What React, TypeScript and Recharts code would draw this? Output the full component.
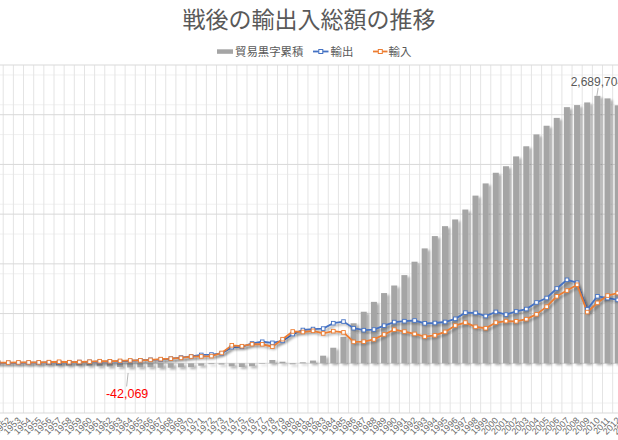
import React from 'react';
import { ComposedChart, Bar, Line, XAxis, YAxis, CartesianGrid, LabelList } from 'recharts';

const years = [
  '1950','1951','1952','1953','1954','1955','1956','1957','1958','1959',
  '1960','1961','1962','1963','1964','1965','1966','1967','1968','1969',
  '1970','1971','1972','1973','1974','1975','1976','1977','1978','1979',
  '1980','1981','1982','1983','1984','1985','1986','1987','1988','1989',
  '1990','1991','1992','1993','1994','1995','1996','1997','1998','1999',
  '2000','2001','2002','2003','2004','2005','2006','2007','2008','2009',
  '2010','2011','2012','2013',
];

// 輸出 (億円)
const exportsV = [
  2980, 4888, 4582, 4589, 5865, 7238, 9005, 10290, 10319, 12447,
  14596, 15209, 17675, 19632, 24023, 30426, 35195, 37590, 46756, 57564,
  69544, 83928, 88061, 100314, 162079, 165453, 199346, 216481, 205558, 225315,
  293825, 334690, 344325, 349093, 403253, 419557, 352897, 333152, 339392, 378225,
  414569, 423599, 430123, 402024, 404976, 415309, 447313, 509380, 506450, 475476,
  516542, 489792, 521090, 545484, 611700, 656565, 752462, 839314, 810181, 541706,
  673996, 655465, 637476, 697742,
];

// 輸入 (億円)
const importsV = [
  3482, 7367, 7280, 8668, 8634, 8897, 11628, 15421, 10950, 12988,
  16168, 20997, 20284, 24246, 28575, 29408, 34283, 41987, 46754, 54117,
  67972, 69100, 72290, 104044, 180764, 171700, 192292, 191318, 167276, 242454,
  319953, 314641, 326563, 300148, 323211, 310849, 215507, 217369, 240063, 289786,
  338552, 319002, 295274, 268264, 281043, 315488, 379934, 409562, 366536, 352680,
  409384, 424155, 422275, 443620, 492166, 569494, 673443, 731359, 789547, 514994,
  607650, 681112, 706886, 812425,
];

// 貿易黒字累積 (億円)
const cumulativeV = [
  -502, -2981, -5679, -9758, -12527, -14186, -16809, -21940, -22571, -23112,
  -24684, -30472, -33081, -37695, -42069, -41051, -40139, -44529, -44527, -41080,
  -39508, -24680, -8909, -12639, -31324, -37571, -30517, -5354, 32928, 15789,
  -10339, 9710, 27472, 76417, 156459, 265167, 402557, 518340, 617669, 706108,
  782125, 886722, 1021571, 1155331, 1279264, 1379085, 1446464, 1546282, 1686196, 1808992,
  1916150, 1981787, 2080602, 2182466, 2302000, 2389071, 2468090, 2576045, 2596679, 2623391,
  2689704, 2664057, 2594647, 2479964,
];

const labelYears = ['1964', '2010'];
const majorValues = [-500000, 0, 500000, 1000000, 1500000, 2000000, 2500000, 3000000];
const minorValues = [
  -400000, -300000, -200000, -100000,
  100000, 200000, 300000, 400000,
  600000, 700000, 800000, 900000,
  1100000, 1200000, 1300000, 1400000,
  1600000, 1700000, 1800000, 1900000,
  2100000, 2200000, 2300000, 2400000,
  2600000, 2700000, 2800000, 2900000,
];

const data = years.map((y, i) => ({
  year: y,
  cum: cumulativeV[i],
  exp: exportsV[i],
  imp: importsV[i],
}));

const NUM_FONT = '"Liberation Sans", Arial, sans-serif';
const JP_FONT = '"Noto Sans CJK JP", "Noto Sans", sans-serif';

const YearTick = (props: any) => {
  const { x, y, payload } = props;
  const ax = x + 3;
  const ay = y + 8;
  return (
    <text
      x={ax}
      y={ay}
      transform={`rotate(-45, ${ax}, ${ay})`}
      textAnchor="end"
      fontSize={9}
      fill="#6b6b6b"
      fontFamily={NUM_FONT}
    >
      {payload.value}
    </text>
  );
};

const ShadowBar = (props: any) => {
  const { x, y, width, height, fill } = props;
  if (x == null || y == null) return null;
  const top = Math.min(y, y + height);
  const h = Math.abs(height);
  return <rect x={x} y={top} width={width} height={h} fill={fill} filter="url(#barShadow)" />;
};

const makeDot = (color: string) => (props: any) => {
  const { cx, cy, index } = props;
  if (cx == null || cy == null) return <g key={index} />;
  return (
    <rect key={index} x={cx - 1.8} y={cy - 1.8} width={3.6} height={3.6} fill="#ffffff" stroke={color} strokeWidth={0.9} />
  );
};

const CumLabel = (props: any) => {
  const { x, y, width, height, value, index } = props;
  const yr = years[index];
  if (!labelYears.includes(yr)) return null;
  const cx = x + width / 2;
  const text = Number(value).toLocaleString('en-US');
  if (value < 0) {
    const bottom = Math.max(y, y + height);
    return (
      <g>
        <line x1={cx - 2} y1={bottom + 5.5} x2={cx - 3.5} y2={bottom + 19} stroke="#a6a6a6" strokeWidth={0.8} />
        <text x={cx - 3} y={bottom + 30.5} textAnchor="middle" fontSize={12.5} fill="#ff0000" fontFamily={NUM_FONT}>
          {text}
        </text>
      </g>
    );
  }
  const top = Math.min(y, y + height);
  return (
    <g>
      <line x1={cx - 0.5} y1={top} x2={cx + 0.8} y2={top - 8} stroke="#a6a6a6" strokeWidth={0.8} />
      <text x={cx} y={top - 10} textAnchor="middle" fontSize={12} fill="#595959" fontFamily={NUM_FONT}>
        {text}
      </text>
    </g>
  );
};

const verticalGen = (args: any) => {
  const off = args.offset || {};
  const left = off.left ?? 0;
  const w = off.width ?? 0;
  const n = years.length;
  const out: number[] = [];
  for (let i = 0; i <= n; i++) out.push(left + (i * w) / n);
  return out;
};

export default function App() {
  return (
    <div
      style={{
        position: 'absolute',
        left: 0,
        top: 0,
        width: 618,
        height: 440,
        overflow: 'hidden',
        background: '#ffffff',
      }}
    >
      <svg width={0} height={0} style={{ position: 'absolute' }}>
        <defs>
          <filter id="barShadow" filterUnits="userSpaceOnUse" x={-50} y={-50} width={900} height={600}>
            <feDropShadow dx={2.2} dy={1.8} stdDeviation={1.1} floodColor="#000000" floodOpacity={0.33} />
          </filter>
          <filter id="lineShadow" filterUnits="userSpaceOnUse" x={-50} y={-50} width={900} height={600}>
            <feDropShadow dx={1.8} dy={2.2} stdDeviation={1.2} floodColor="#000000" floodOpacity={0.35} />
          </filter>
        </defs>
      </svg>
      <div style={{ position: 'absolute', left: -60, top: 0 }}>
        <ComposedChart
          width={720}
          height={440}
          data={data}
          margin={{ top: 65, right: 27, bottom: 0, left: 42.9 }}
        >
          <CartesianGrid vertical={false} stroke="#f0f0f0" horizontalValues={minorValues} />
          <CartesianGrid horizontal={false} stroke="#e4e4e4" verticalCoordinatesGenerator={verticalGen} />
          <CartesianGrid vertical={false} stroke="#d9d9d9" horizontalValues={majorValues} />
          <XAxis
            dataKey="year"
            interval={0}
            tick={<YearTick />}
            tickLine={false}
            axisLine={false}
            tickSize={0}
            tickMargin={0}
            height={27}
          />
          <YAxis hide type="number" domain={[-500000, 3000000]} allowDataOverflow />
          <Bar dataKey="cum" fill="#a5a5a5" barSize={6} isAnimationActive={false} shape={ShadowBar}>
            <LabelList dataKey="cum" content={CumLabel} />
          </Bar>
          <Line
            dataKey="exp"
            stroke="#4472c4"
            strokeWidth={1.8}
            dot={makeDot('#4472c4')}
            activeDot={false}
            filter="url(#lineShadow)"
            isAnimationActive={false}
          />
          <Line
            dataKey="imp"
            stroke="#ed7d31"
            strokeWidth={1.8}
            dot={makeDot('#ed7d31')}
            activeDot={false}
            filter="url(#lineShadow)"
            isAnimationActive={false}
          />
        </ComposedChart>
      </div>
      <svg
        width={618}
        height={64}
        style={{ position: 'absolute', left: 0, top: 0, pointerEvents: 'none' }}
      >
        <text x={309} y={27.5} textAnchor="middle" fontSize={23} fill="#595959" fontFamily={JP_FONT}>
          戦後の輸出入総額の推移
        </text>
        <rect x={217} y={49.3} width={16} height={4.5} fill="#a5a5a5" />
        <text x={235} y={55.6} fontSize={11.4} fill="#595959" fontFamily={JP_FONT}>
          貿易黒字累積
        </text>
        <line x1={313} y1={51.5} x2={328.5} y2={51.5} stroke="#4472c4" strokeWidth={1.8} />
        <rect x={318.8} y={49.5} width={4} height={4} fill="#ffffff" stroke="#4472c4" strokeWidth={1} />
        <text x={330.5} y={55.6} fontSize={11.4} fill="#595959" fontFamily={JP_FONT}>
          輸出
        </text>
        <line x1={373} y1={51.5} x2={387.5} y2={51.5} stroke="#ed7d31" strokeWidth={1.8} />
        <rect x={378.3} y={49.5} width={4} height={4} fill="#ffffff" stroke="#ed7d31" strokeWidth={1} />
        <text x={388.5} y={55.6} fontSize={11.4} fill="#595959" fontFamily={JP_FONT}>
          輸入
        </text>
      </svg>
    </div>
  );
}
